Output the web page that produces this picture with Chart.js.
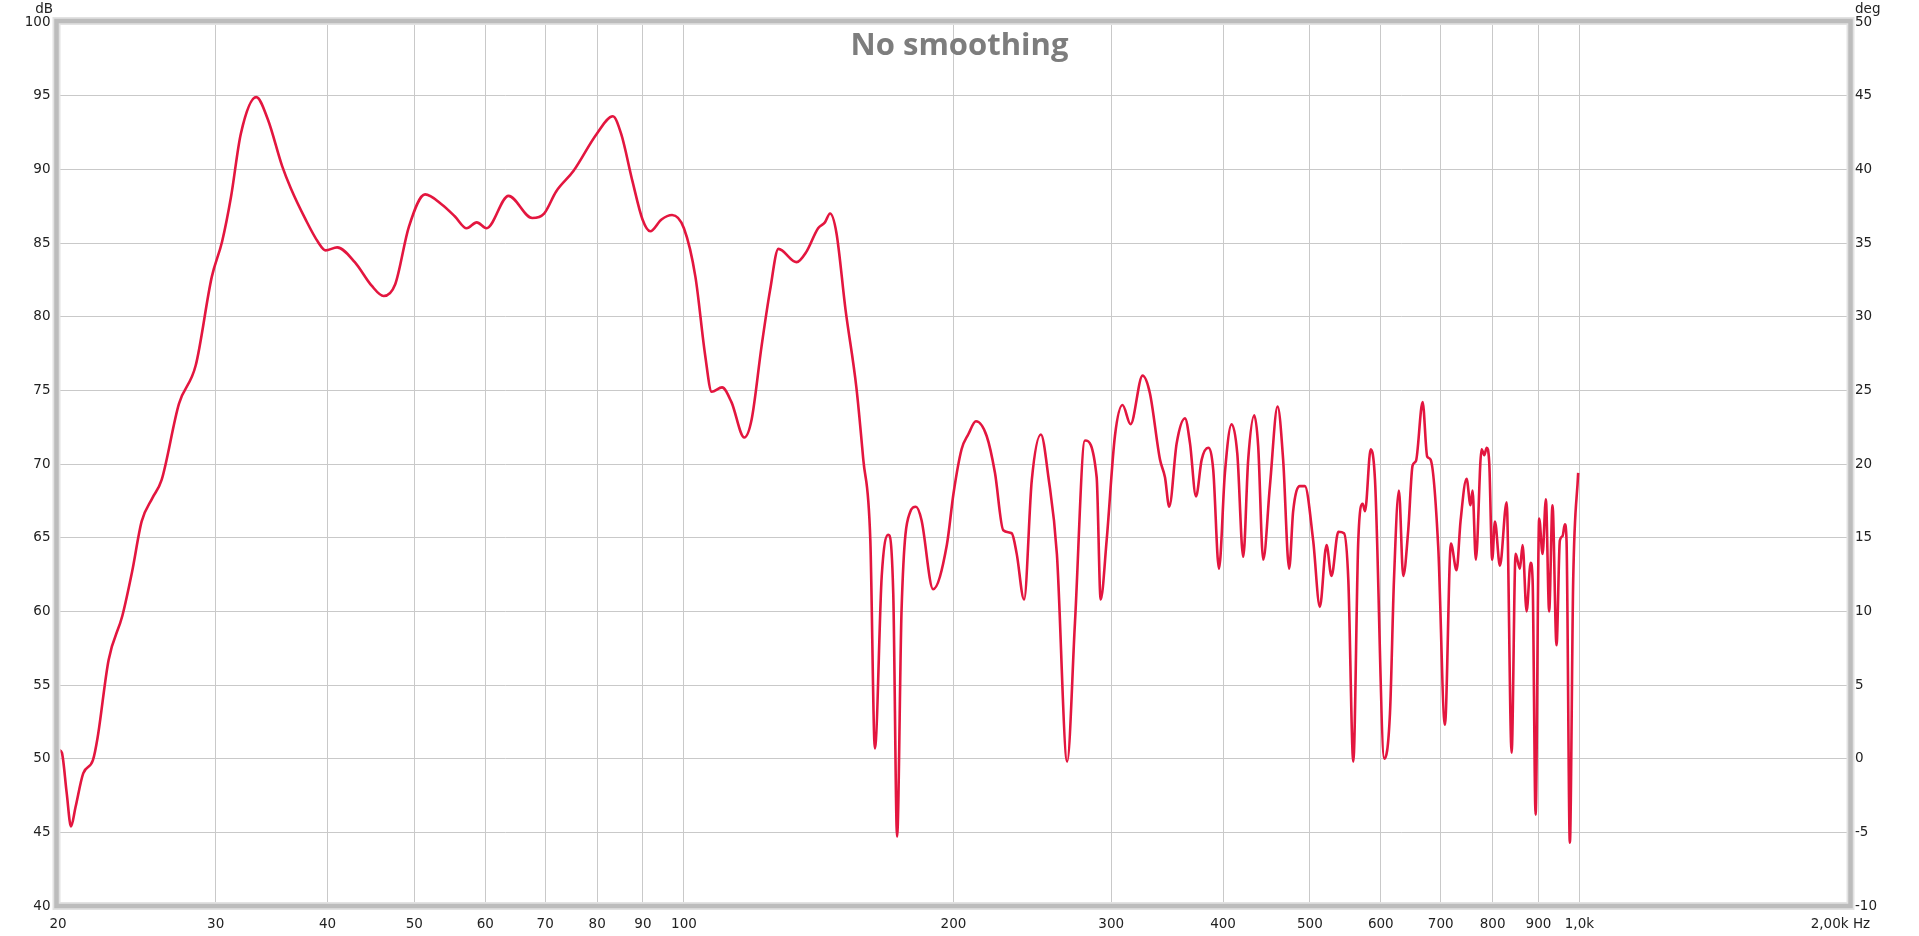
<!DOCTYPE html>
<html>
<head>
<meta charset="utf-8">
<script src="https://cdn.jsdelivr.net/npm/chart.js"></script>
<style>
  html, body { margin: 0; padding: 0; background: #ffffff; }
  #wrap { width: 1919px; height: 936px; }
</style>
</head>
<body>
<div id="wrap"><canvas id="c" width="1919" height="936"></canvas></div>
<script>
// ---- data ----
const freqHz = [
  20.05, 20.2, 20.45, 20.68, 20.92, 21.34, 21.88, 22.14, 22.78, 23.6,
  24.2, 24.8, 25.5, 26.1, 27.3, 28.5, 29.7, 30.5, 31.2, 32.0,
  33.3, 34.3, 35.6, 36.4, 37.8, 39.0, 39.8, 41.0, 42.9, 44.8,
  46.2, 47.6, 49.3, 51.4, 53.7, 55.5, 57.2, 58.7, 60.2, 63.7,
  67.7, 69.8, 72.0, 75.3, 79.9, 83.3, 85.1, 87.6, 89.9, 91.7,
  94.4, 97.0, 100.0, 103.0, 105.6, 107.4, 110.3, 113.0, 116.8, 119.0,
  122.1, 124.8, 127.5, 133.6, 137.0, 141.2, 143.7, 145.6, 148.0, 151.5,
  155.8, 158.6, 161.5, 163.4, 166.3, 169.1, 171.3, 173.0, 175.0, 178.8,
  181.6, 184.2, 189.8, 196.6, 200.0, 204.2, 207.7, 211.9, 217.8, 222.5,
  227.3, 232.3, 235.3, 239.8, 244.6, 250.4, 255.3, 260.9, 267.9, 273.3,
  280.4, 289.0, 292.0, 296.5, 302.9, 308.9, 315.3, 325.2, 331.4, 340.1,
  344.5, 348.3, 355.0, 362.7, 367.4, 373.1, 378.6, 385.0, 390.0, 395.8,
  401.9, 408.9, 414.9, 421.3, 426.7, 433.4, 437.8, 443.5, 451.2, 460.2,
  466.8, 474.1, 479.0, 487.4, 493.6, 504.3, 513.0, 521.9, 528.6, 538.0,
  545.9, 552.0, 559.1, 566.3, 572.8, 576.2, 584.7, 591.2, 605.5, 614.4,
  620.7, 628.7, 635.7, 643.9, 651.2, 656.8, 668.2, 676.1, 682.0, 695.5,
  707.6, 718.6, 729.1, 736.6, 748.1, 755.8, 759.7, 766.2, 777.6, 783.0,
  787.8, 793.0, 799.1, 804.7, 815.1, 829.3, 840.0, 848.6, 858.1, 864.0,
  873.0, 882.1, 886.6, 893.4, 901.7, 909.6, 917.3, 925.1, 933.1, 942.8,
  950.9, 957.4, 963.2, 967.4, 975.7, 984.1, 996.8
];
const splDb = [
  50.6, 50.4, 47.7, 45.4, 46.7, 49.0, 49.9, 51.4, 56.7, 59.7,
  62.7, 66.1, 67.7, 68.9, 74.1, 76.7, 82.7, 85.1, 88.1, 92.4,
  94.9, 93.4, 90.2, 88.7, 86.6, 85.1, 84.5, 84.7, 83.7, 82.1,
  81.4, 82.2, 86.1, 88.3, 87.6, 86.8, 86.0, 86.4, 86.0, 88.2,
  86.7, 87.0, 88.5, 89.9, 92.4, 93.6, 92.4, 89.2, 86.6, 85.8,
  86.6, 86.9, 86.0, 82.7, 77.4, 74.9, 75.2, 74.2, 71.8, 73.0,
  78.0, 81.8, 84.6, 83.7, 84.4, 86.0, 86.4, 87.0, 85.7, 80.5,
  75.2, 70.3, 64.8, 50.7, 62.4, 65.2, 61.2, 44.7, 60.1, 66.7,
  67.1, 66.2, 61.5, 64.5, 68.0, 71.0, 72.0, 72.9, 71.9, 69.4,
  65.5, 65.3, 63.9, 60.8, 68.9, 72.0, 69.1, 63.9, 49.8, 59.2,
  71.6, 69.1, 60.8, 64.8, 71.9, 74.0, 72.7, 76.0, 74.8, 70.3,
  69.1, 67.1, 71.4, 73.1, 71.4, 67.8, 70.3, 71.1, 69.6, 62.9,
  69.4, 72.7, 70.7, 63.7, 70.3, 73.3, 71.2, 63.5, 68.5, 73.9,
  70.3, 62.9, 66.8, 68.5, 68.5, 64.8, 60.3, 64.5, 62.4, 65.4,
  65.3, 62.1, 49.8, 64.8, 67.3, 66.8, 71.0, 68.9, 50.0, 53.1,
  62.1, 68.2, 62.4, 65.5, 69.9, 70.2, 74.2, 70.5, 70.3, 64.4,
  52.3, 64.6, 62.8, 66.1, 69.0, 67.2, 68.2, 63.5, 71.0, 70.6,
  71.1, 70.1, 63.5, 66.1, 63.1, 67.4, 50.4, 63.9, 62.9, 64.5,
  60.0, 63.3, 62.1, 46.2, 66.3, 63.9, 67.6, 60.0, 67.2, 57.7,
  64.8, 65.1, 65.9, 64.8, 44.3, 62.1, 69.4
];
const xTickValues = [20, 30, 40, 50, 60, 70, 80, 90, 100, 200, 300, 400, 500, 600, 700, 800, 900, 1000, 2000];
const xTickLabels = ['20', '30', '40', '50', '60', '70', '80', '90', '100', '200', '300', '400', '500', '600', '700', '800', '900', '1,0k', '2,00k Hz    '];
const leftAxisRange = [40, 100];
const rightAxisRange = [-10, 50];
const axisStep = 5;
const titleText = 'No smoothing';
const leftUnit = 'dB';
const rightUnit = 'deg';

// ---- drawing ----
const labelFont = { family: 'DejaVu Sans', size: 13.5 };
const gridColor = '#c9c9c9';

const decor = {
  id: 'decor',
  beforeDatasetsDraw(chart) {
    const { ctx, chartArea } = chart;
    ctx.save();
    ctx.font = 'bold 31px "Open Sans"';
    ctx.fillStyle = '#7d7d7d';
    ctx.textAlign = 'center';
    ctx.textBaseline = 'alphabetic';
    ctx.fillText(titleText, (chartArea.left + chartArea.right) / 2 + 6, chartArea.top + 33);
    ctx.restore();
  },
  afterDraw(chart) {
    const { ctx, chartArea } = chart;
    const a = chartArea;
    ctx.save();
    ctx.strokeStyle = '#e2e2e2';
    ctx.lineWidth = 8;
    ctx.strokeRect(a.left - 1.5, a.top - 1, a.right - a.left + 3, a.bottom - a.top + 1);
    ctx.strokeStyle = '#bcbcbc';
    ctx.lineWidth = 4.5;
    ctx.strokeRect(a.left - 1.5, a.top - 1, a.right - a.left + 3, a.bottom - a.top + 1);
    ctx.font = '13.5px "DejaVu Sans"';
    ctx.fillStyle = '#222222';
    ctx.textBaseline = 'alphabetic';
    ctx.textAlign = 'right';
    ctx.fillText(leftUnit, a.left - 5, 13);
    ctx.textAlign = 'left';
    ctx.fillText(rightUnit, a.right + 6, 13);
    ctx.restore();
  }
};

new Chart(document.getElementById('c'), {
  type: 'line',
  data: {
    datasets: [{
      label: 'SPL',
      data: freqHz.map((f, i) => ({ x: f, y: splDb[i] })),
      borderColor: '#e3163f',
      backgroundColor: '#e3163f',
      borderWidth: 2.6,
      pointRadius: 0,
      cubicInterpolationMode: 'monotone',
      yAxisID: 'y'
    }]
  },
  options: {
    responsive: false,
    animation: false,
    events: [],
    layout: { padding: { top: 22, left: 0, right: 0, bottom: 0 } },
    plugins: { legend: { display: false }, tooltip: { enabled: false }, title: { display: false } },
    scales: {
      x: {
        type: 'logarithmic',
        min: xTickValues[0],
        max: xTickValues[xTickValues.length - 1],
        afterBuildTicks: (s) => { s.ticks = xTickValues.map(v => ({ value: v })); },
        afterFit: (s) => { s.height = 30; },
        grid: { color: gridColor, lineWidth: 1, drawTicks: false },
        border: { display: false },
        ticks: {
          autoSkip: false, maxRotation: 0, minRotation: 0, padding: 10,
          font: labelFont, color: '#222222',
          callback: (v, i) => xTickLabels[i]
        }
      },
      y: {
        position: 'left',
        min: leftAxisRange[0], max: leftAxisRange[1],
        afterFit: (s) => { s.width = 58; },
        grid: { color: gridColor, lineWidth: 1, drawTicks: false },
        border: { display: false },
        ticks: { stepSize: axisStep, padding: 7.5, font: labelFont, color: '#222222' }
      },
      y1: {
        position: 'right',
        min: rightAxisRange[0], max: rightAxisRange[1],
        afterFit: (s) => { s.width = 70; },
        grid: { display: false, drawTicks: false },
        border: { display: false },
        ticks: { stepSize: axisStep, padding: 6, font: labelFont, color: '#222222' }
      }
    }
  },
  plugins: [decor]
});
</script>
</body>
</html>
